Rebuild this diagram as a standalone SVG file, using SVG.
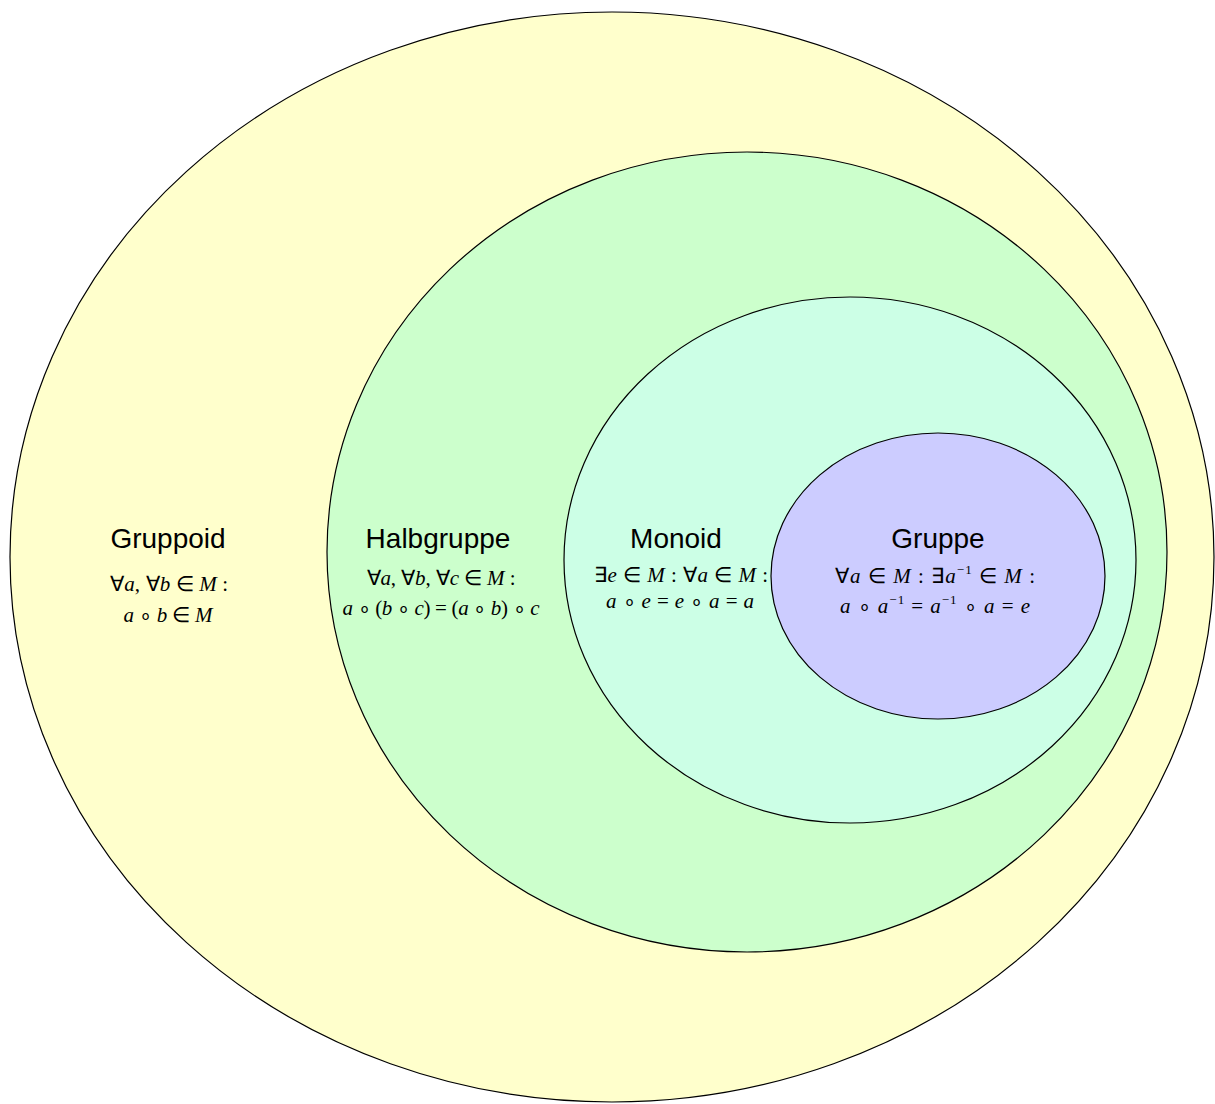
<svg xmlns="http://www.w3.org/2000/svg" width="1215" height="1104" viewBox="0 0 1215 1104">
<style>
.shape{stroke:#000;stroke-width:1.2}
.title{font-family:"Liberation Sans",Arial,sans-serif;font-size:28px;fill:#000;text-anchor:middle}
.math{font-family:"Liberation Serif","Times New Roman",serif;font-size:21px;fill:#000;text-anchor:middle}
.i{font-style:italic}
.sup{font-size:13px}
</style>
<rect width="1215" height="1104" fill="#fff"/>
<g id="gruppoid">
<ellipse class="shape" cx="612" cy="557" rx="602" ry="545" fill="#FFFFCC"/>
<text class="title" x="168" y="548">Gruppoid</text>
<text class="math" x="169" y="591" textLength="118" lengthAdjust="spacing">∀<tspan class="i">a</tspan>, ∀<tspan class="i">b</tspan> ∈ <tspan class="i">M</tspan> :</text>
<text class="math" x="168" y="622" textLength="89" lengthAdjust="spacing"><tspan class="i">a</tspan> ∘ <tspan class="i">b</tspan> ∈ <tspan class="i">M</tspan></text>
</g>
<g id="halbgruppe">
<ellipse class="shape" cx="747" cy="552" rx="420" ry="400" fill="#CCFFCC"/>
<text class="title" x="438" y="548">Halbgruppe</text>
<text class="math" x="441" y="585" textLength="149" lengthAdjust="spacing">∀<tspan class="i">a</tspan>, ∀<tspan class="i">b</tspan>, ∀<tspan class="i">c</tspan> ∈ <tspan class="i">M</tspan> :</text>
<text class="math" x="441" y="615" textLength="197" lengthAdjust="spacing"><tspan class="i">a</tspan> ∘ (<tspan class="i">b</tspan> ∘ <tspan class="i">c</tspan>) = (<tspan class="i">a</tspan> ∘ <tspan class="i">b</tspan>) ∘ <tspan class="i">c</tspan></text>
</g>
<g id="monoid">
<ellipse class="shape" cx="850" cy="560" rx="286" ry="263" fill="#CCFFE6"/>
<text class="title" x="676" y="548">Monoid</text>
<text class="math" x="681" y="582" textLength="174" lengthAdjust="spacing">∃<tspan class="i">e</tspan> ∈ <tspan class="i">M</tspan> : ∀<tspan class="i">a</tspan> ∈ <tspan class="i">M</tspan> :</text>
<text class="math" x="680" y="608" textLength="148" lengthAdjust="spacing"><tspan class="i">a</tspan> ∘ <tspan class="i">e</tspan> = <tspan class="i">e</tspan> ∘ <tspan class="i">a</tspan> = <tspan class="i">a</tspan></text>
</g>
<g id="gruppe">
<ellipse class="shape" cx="938" cy="576" rx="167" ry="143" fill="#CCCCFF"/>
<text class="title" x="938" y="548">Gruppe</text>
<text class="math" x="935" y="583" textLength="200" lengthAdjust="spacing">∀<tspan class="i">a</tspan> ∈ <tspan class="i">M</tspan> : ∃<tspan class="i">a</tspan><tspan class="sup" dy="-9">−1</tspan><tspan dy="9"> ∈ </tspan><tspan class="i">M</tspan> :</text>
<text class="math" x="935" y="613" textLength="190" lengthAdjust="spacing"><tspan class="i">a</tspan> ∘ <tspan class="i">a</tspan><tspan class="sup" dy="-9">−1</tspan><tspan dy="9"> = </tspan><tspan class="i">a</tspan><tspan class="sup" dy="-9">−1</tspan><tspan dy="9"> ∘ </tspan><tspan class="i">a</tspan> = <tspan class="i">e</tspan></text>
</g>
<g id="connectors"></g>
</svg>
